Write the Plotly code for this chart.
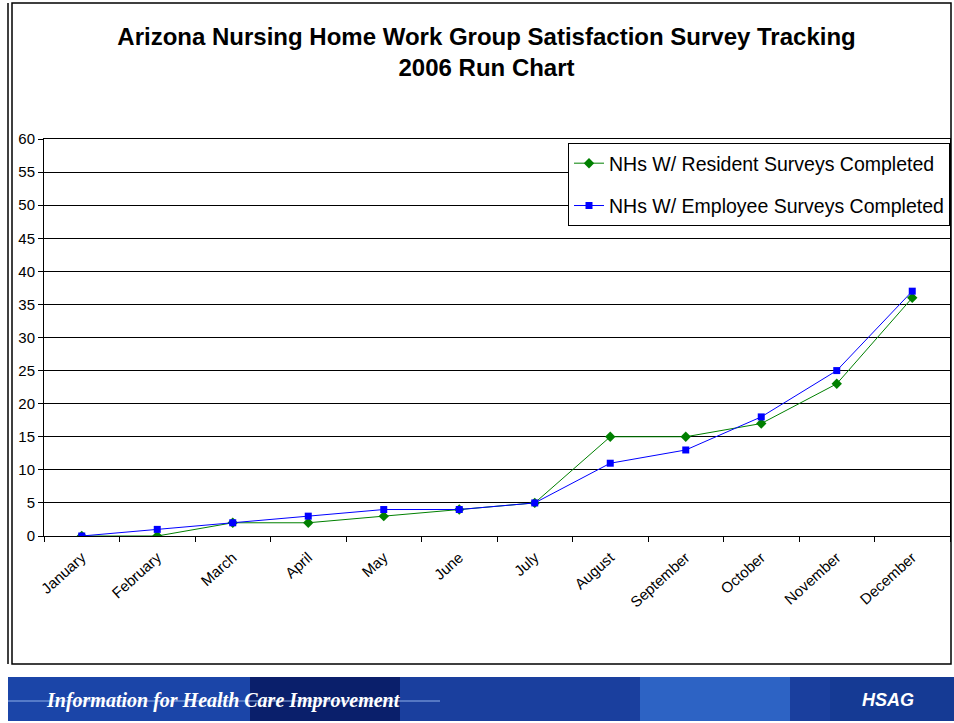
import plotly.graph_objects as go

months = ["January", "February", "March", "April", "May", "June", "July",
          "August", "September", "October", "November", "December"]
resident = [0, 0, 2, 2, 3, 4, 5, 15, 15, 17, 23, 36]
employee = [0, 1, 2, 3, 4, 4, 5, 11, 13, 18, 25, 37]

W, H = 954, 723
L, R, T, B = 44, 950, 139, 536


def px(x):
    return (x - L) / (R - L)


def py(y):
    return (B - y) / (B - T)


fig = go.Figure()
fig.add_trace(go.Scatter(
    x=months, y=resident, name="NHs W/ Resident Surveys Completed",
    mode="lines+markers", legendgroup="a",
    line=dict(color="#008000", width=1),
    marker=dict(symbol="diamond", size=8, color="#008000"),
))
fig.add_trace(go.Scatter(
    x=months, y=employee, name="NHs W/ Employee Surveys Completed",
    mode="lines+markers", legendgroup="b",
    line=dict(color="#0000FF", width=1),
    marker=dict(symbol="square", size=7, color="#0000FF"),
))

shapes = [
    # outer frame
    dict(type="rect", xref="paper", yref="paper", x0=px(12), x1=px(951), y0=py(664), y1=py(3),
         line=dict(color="black", width=1.5), layer="below"),
    dict(type="line", xref="paper", yref="paper", x0=px(8), x1=px(8), y0=py(664), y1=py(3),
         line=dict(color="black", width=1.5)),
    # banner
    dict(type="rect", xref="paper", yref="paper", x0=px(8), x1=px(954), y0=py(721), y1=py(677),
         line=dict(width=0), fillcolor="#1a3f9e", layer="below"),
    dict(type="rect", xref="paper", yref="paper", x0=px(8), x1=px(250), y0=py(721), y1=py(677),
         line=dict(width=0), fillcolor="#1b45a8", layer="below"),
    dict(type="rect", xref="paper", yref="paper", x0=px(250), x1=px(400), y0=py(721), y1=py(677),
         line=dict(width=0), fillcolor="#0a1f6b", layer="below"),
    dict(type="rect", xref="paper", yref="paper", x0=px(640), x1=px(790), y0=py(721), y1=py(677),
         line=dict(width=0), fillcolor="#2d63c4", layer="below"),
    dict(type="rect", xref="paper", yref="paper", x0=px(830), x1=px(954), y0=py(721), y1=py(677),
         line=dict(width=0), fillcolor="#153a94", layer="below"),
    dict(type="line", xref="paper", yref="paper", x0=px(8), x1=px(440), y0=py(701), y1=py(701),
         line=dict(color="#8fb0e8", width=1)),
]

annotations = [
    dict(text="<b><i>Information for Health Care Improvement</i></b>", xref="paper", yref="paper",
         x=px(44), y=py(700), xanchor="left", yanchor="middle", showarrow=False,
         font=dict(family="Liberation Serif", size=20, color="white")),
    dict(text="<b><i>HSAG</i></b>", xref="paper", yref="paper",
         x=px(888), y=py(700), xanchor="center", yanchor="middle", showarrow=False,
         font=dict(family="Liberation Sans", size=18, color="white")),
]

fig.update_layout(
    width=W, height=H,
    margin=dict(l=L, r=W - R, t=T, b=H - B),
    paper_bgcolor="white", plot_bgcolor="white",
    title=dict(text="<b>Arizona Nursing Home Work Group Satisfaction Survey Tracking<br>2006 Run Chart</b>",
               x=0.51, xanchor="center", y=1 - 45 / H, yanchor="top",
               font=dict(family="Liberation Sans", size=24, color="black")),
    font=dict(family="Liberation Sans", color="black"),
    showlegend=True,
    legend=dict(x=px(568), y=py(143), xanchor="left", yanchor="top",
                bgcolor="white", bordercolor="black", borderwidth=1,
                font=dict(size=19.5, color="black"), tracegroupgap=14,
                itemwidth=30),
    xaxis=dict(type="category", range=[-0.5, 11.5], tickson="boundaries", ticks="outside", ticklen=5,
               tickcolor="black", tickangle=-42, showgrid=False, showline=True,
               linecolor="black", linewidth=1, mirror=True, ticklabelstandoff=6,
               tickfont=dict(size=15, color="black")),
    yaxis=dict(range=[0, 60], dtick=5, ticks="outside", ticklen=5, tickcolor="black",
               showgrid=True, gridcolor="black", gridwidth=1, zeroline=False,
               showline=True, linecolor="black", linewidth=1, mirror=True,
               tickfont=dict(size=15, color="black")),
    shapes=shapes,
    annotations=annotations,
)

fig.write_html("out.html", config={"displayModeBar": False},
               post_script="document.body.style.margin='0';")
